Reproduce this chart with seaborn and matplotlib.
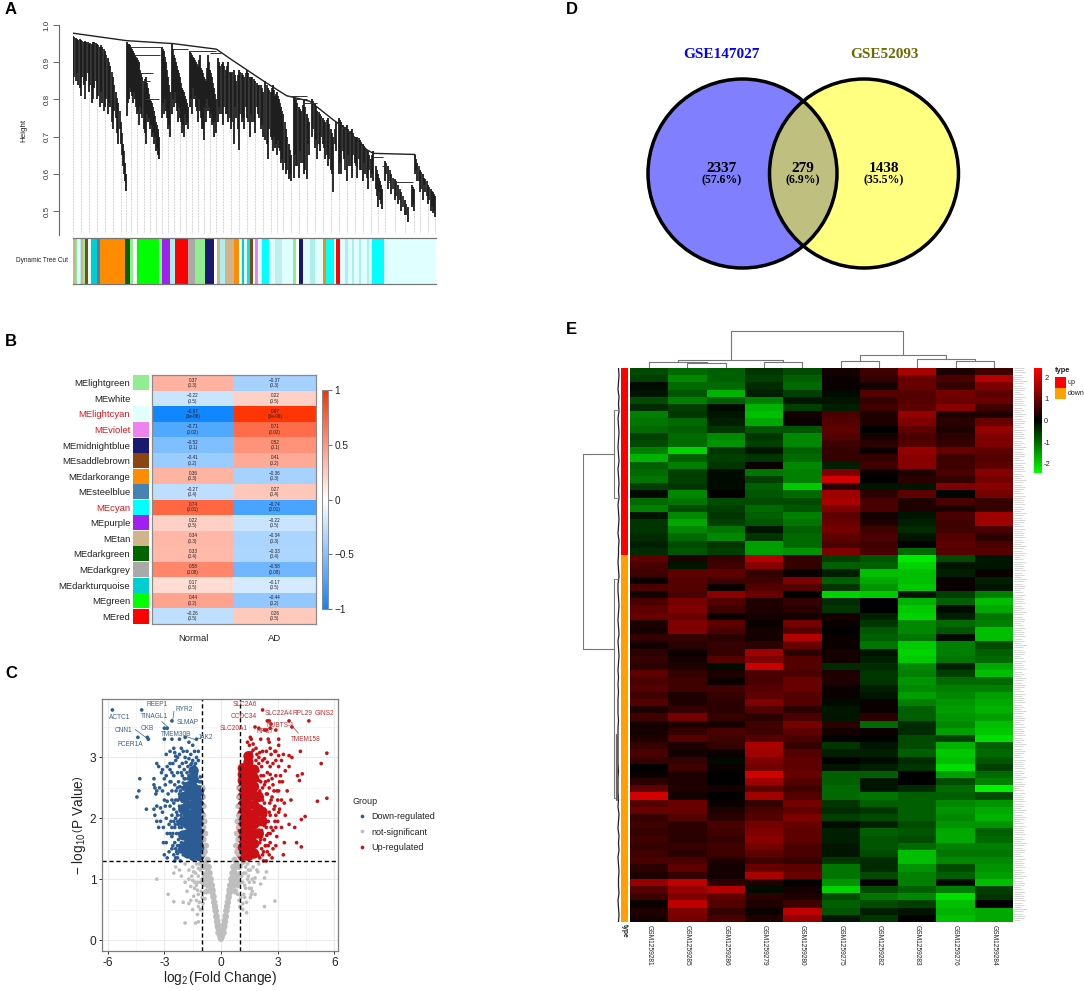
import numpy as np
import pandas as pd
import matplotlib
matplotlib.use("Agg")
import matplotlib.pyplot as plt
from matplotlib.colors import LinearSegmentedColormap
from matplotlib.patches import Circle
import seaborn as sns

# ---------------- panel A data
spike_x = [0,8,16,24,32,40,48,56,64,72,80,88,96,104,112,120,128,136,144,150,155,158,
 162,168,174,180,186,192,198,204,212,218,224,230,236,242,248,254,258,
 268,274,280,286,292, 298,304,310,316,322,328,334,340,346,
 350,356,362,368,374,380,386,392,398,404,410,416,422,428,
 434,442,450,458,466,474,482,490,498,506,514,522,530,538,546,554,562,570,
 576,584,592,600,606,612,618,624,630,638,646,652,
 662,668,676,684,692,700,708, 716,724,732,740,748,756,764,772,780,788,
 796,804,812,820,828,836,844,852,860,868,876,884,892,900,
 908,914,920,926, 934,944,954,964,974,984,994,1004, 1016,1022,
 1026,1032,1040,1048,1056,1064,1072,1080,1086]
spike_top = [.97,.965,.96,.96,.955,.955,.95,.95,.955,.95,.94,.94,.93,.91,.89,.86,.82,.79,.74,.68,.63,.60,
 .955,.95,.94,.93,.92,.91,.90,.87,.85,.86,.83,.80,.79,.77,.74,.72,.70,
 .94,.93,.90,.86,.82, .95,.92,.90,.88,.86,.83,.82,.80,.78,
 .93,.92,.91,.90,.89,.92,.88,.86,.85,.92,.88,.86,.83,.80,
 .91,.89,.90,.88,.90,.87,.88,.85,.88,.87,.86,.88,.86,.86,.85,.84,.84,.82,
 .85,.83,.82,.84,.81,.82,.80,.78,.76,.72,.68,.65,
 .81,.80,.78,.77,.80,.76,.74, .80,.79,.77,.76,.75,.74,.75,.72,.70,.74,
 .75,.74,.72,.73,.71,.72,.70,.70,.69,.68,.67,.66,.64,.66,
 .62,.60,.58,.56, .635,.62,.60,.585,.57,.55,.53,.51, .57,.56,
 .65,.63,.61,.60,.585,.57,.56,.55,.54]
spike_bot = [.84,.85,.84,.81,.84,.85,.82,.79,.83,.80,.78,.79,.78,.76,.78,.72,.75,.68,.68,.62,.58,.555,
 .755,.80,.82,.79,.80,.76,.73,.76,.72,.68,.74,.72,.70,.68,.66,.65,.64,
 .75,.76,.77,.72,.70, .76,.78,.79,.74,.75,.71,.70,.73,.72,
 .78,.76,.80,.78,.74,.77,.72,.69,.74,.77,.75,.73,.70,.71,
 .74,.76,.73,.76,.74,.72,.68,.75,.665,.74,.72,.75,.70,.74,.71,.76,.72,.70,
 .69,.64,.70,.66,.67,.65,.67,.63,.61,.60,.585,.58,
 .59,.62,.59,.63,.60,.585,.65, .70,.67,.64,.66,.68,.64,.62,.61,.55,.66,
 .60,.60,.64,.58,.62,.59,.63,.59,.61,.58,.60,.56,.59,.58,
 .56,.51,.53,.505, .58,.56,.545,.53,.52,.50,.49,.47, .51,.50,
 .60,.58,.55,.53,.55,.52,.50,.495,.485]
fine_spikes = [(4,.968,.86),(12,.962,.87),(20,.962,.83),(28,.958,.86),(36,.957,.80),(44,.953,.87),(52,.952,.84),(60,.953,.80),(68,.952,.85),(76,.945,.81),(84,.945,.82),(92,.935,.77),(100,.92,.80),(108,.90,.79),(116,.875,.74),(124,.84,.77),(132,.805,.71),(140,.77,.72),(147,.71,.65),(152,.66,.60),
 (165,.95,.79),(171,.945,.83),(177,.935,.81),(183,.925,.82),(189,.915,.78),(195,.905,.77),(201,.88,.78),(208,.86,.75),(215,.855,.71),(221,.845,.76),(227,.815,.75),(233,.795,.73),(239,.78,.71),(245,.755,.70),(251,.73,.67),(256,.71,.68),
 (271,.935,.79),(277,.915,.80),(283,.88,.75),(289,.84,.73),
 (301,.935,.80),(307,.91,.82),(313,.89,.77),(319,.87,.78),(325,.845,.74),(331,.825,.73),(337,.81,.76),(343,.79,.74),
 (353,.925,.80),(359,.915,.83),(365,.905,.81),(371,.895,.77),(377,.905,.80),(383,.885,.75),(389,.87,.72),(395,.855,.78),(401,.885,.80),(407,.90,.78),(413,.87,.76),(419,.845,.74),(425,.815,.74),
 (438,.90,.78),(446,.895,.76),(454,.89,.78),(462,.89,.76),(470,.875,.75),(478,.875,.74),(486,.865,.78),(494,.865,.72),(502,.875,.76),(510,.865,.75),(518,.87,.78),(526,.87,.74),(534,.86,.76),(542,.855,.74),(550,.845,.78),(558,.84,.75),(566,.83,.73),
 (580,.84,.68),(588,.825,.72),(596,.83,.69),(603,.825,.70),(609,.815,.68),(615,.81,.69),(621,.79,.66),(627,.77,.64),(634,.74,.63),(642,.70,.61),(649,.665,.60),
 (665,.805,.65),(672,.79,.62),(680,.775,.66),(688,.785,.63),(696,.78,.61),(704,.75,.68),
 (720,.795,.72),(728,.78,.69),(736,.765,.68),(744,.755,.70),(752,.745,.67),(760,.745,.65),(768,.735,.64),(776,.71,.60),(784,.72,.68),
 (800,.745,.63),(808,.73,.66),(816,.725,.61),(824,.72,.65),(832,.715,.62),(840,.71,.65),(848,.70,.62),(856,.695,.64),(864,.685,.61),(872,.675,.63),(880,.665,.59),(888,.65,.61),(896,.65,.60),
 (911,.61,.54),(917,.59,.55),(923,.57,.52),
 (939,.63,.60),(949,.61,.58),(959,.59,.56),(969,.58,.54),(979,.56,.53),(989,.54,.51),(999,.52,.49),(1019,.565,.52),
 (1029,.64,.61),(1036,.62,.58),(1044,.605,.56),(1052,.59,.57),(1060,.58,.54),(1068,.565,.53),(1076,.555,.51),(1083,.545,.50)]
backbone_x = [0,160,300,430,470,570,640,710,780,820,880,900,1025,1025]
backbone_y = [.978,.958,.95,.935,.91,.85,.81,.795,.745,.72,.665,.655,.652,.64]
merge_x0 = [170,182,200,200,215,300,352,372,410,640,660,690,940,900,925]
merge_x1 = [268,262,240,232,258,345,400,430,445,700,700,730,1020,930,945]
merge_y = [.94,.92,.87,.85,.80,.935,.93,.93,.925,.81,.80,.79,.577,.645,.62]
band_segments = [(8,"#D2B48C"),(5,"#90EE90"),(7,"#E0FFFF"),(5,"#AFEEEE"),(6,"#D2B48C"),(6,"#90EE90"),(8,"#8B4513"),(10,"#E0FFFF"),
 (18,"#00CED1"),(10,"#4682B4"),(75,"#FF8C00"),(14,"#006400"),(10,"#90EE90"),(10,"#FFFFFF"),(68,"#00FF00"),(10,"#90EE90"),
 (23,"#A020F0"),(14,"#AFEEEE"),(40,"#FF0000"),(21,"#A9A9A9"),(32,"#90EE90"),(27,"#191970"),(8,"#FFFFFF"),(10,"#D2B48C"),
 (15,"#AFEEEE"),(27,"#D2B48C"),(13,"#FF8C00"),(10,"#E0FFFF"),(6,"#00CED1"),(8,"#E0FFFF"),(11,"#00E5EE"),(8,"#8B4513"),
 (7,"#E0FFFF"),(10,"#EE82EE"),(10,"#E0FFFF"),(22,"#00FFFF"),(18,"#E0FFFF"),(20,"#BFEFEF"),(33,"#E0FFFF"),(9,"#90EE90"),
 (10,"#FFFFFF"),(13,"#191970"),(20,"#E0FFFF"),(15,"#AFEEEE"),(25,"#E0FFFF"),(8,"#FF8C00"),(24,"#00FFFF"),(6,"#E0FFFF"),
 (14,"#FF0000"),(14,"#E0FFFF"),(8,"#AFEEEE"),(12,"#E0FFFF"),(8,"#AFEEEE"),(14,"#E0FFFF"),(8,"#AFEEEE"),(16,"#E0FFFF"),
 (6,"#AFEEEE"),(10,"#E0FFFF"),(35,"#00FFFF"),(158,"#E0FFFF")]

# ---------------- panel B data
modules = ["MElightgreen","MEwhite","MElightcyan","MEviolet","MEmidnightblue","MEsaddlebrown","MEdarkorange","MEsteelblue","MEcyan","MEpurple","MEtan","MEdarkgreen","MEdarkgrey","MEdarkturquoise","MEgreen","MEred"]
module_colors = ["#90EE90","#FFFFFF","#E0FFFF","#EE82EE","#191970","#8B4513","#FF8C00","#4682B4","#00FFFF","#A020F0","#D2B48C","#006400","#A9A9A9","#00CED1","#00FF00","#FF0000"]
highlighted = ["MElightcyan","MEviolet","MEcyan"]
normal_r = [.37,-.22,-.97,-.71,-.52,-.41,.36,-.27,.74,.22,.34,.33,.58,.17,.44,-.26]
ad_r = [-.37,.22,.97,.71,.52,.41,-.36,.27,-.74,-.22,-.34,-.33,-.58,-.17,-.44,.26]
pvals = ["0.3","0.5","3e-06","0.02","0.1","0.2","0.3","0.4","0.01","0.5","0.3","0.4","0.08","0.5","0.2","0.5"]
trait_names = ["Normal","AD"]

# ---------------- panel C data (x, y pairs)
gray_points = [(-3.4,1.0),(-2.5,.63),(-2.0,.62),(-1.9,.28),(-2.8,.75),(-1.35,.28),(-1.2,.3),(-1.5,.5),(-1.6,.65),(-1.8,.8),(-1.4,.95),(-1.25,.42),
 (-2.2,1.15),(-2.4,1.2),(-2.5,1.1),(-2.1,1.05),(-1.9,.95),(-1.7,1.15),(-1.5,1.2),(-1.55,1.05),(-1.35,1.1),(-1.3,.9),(-1.2,.75),(-1.15,.62),
 (-1.45,.72),(-1.1,.5),(-1.05,.8),(-1.9,1.25),(-1.7,1.0),(-1.6,.88),(-1.3,.65),(-1.15,1.25),(-1.2,1.05),(-1.1,.95),(-1.0,.7),(-1.1,1.15),
 (-1.25,.82),(-1.4,.85),(-1.05,1.28),(-.95,.6),(-1.0,.5),(-1.7,.6),(-1.2,.55),(-1.0,1.2),(-.95,1.1),(-1.0,1.0),(-.9,.9),(-.9,.78),(-.85,.68),(-1.2,1.18),(-1.3,1.25),(-1.45,1.12),(-1.5,.98),(-1.25,.95),
 (2.85,.64),(2.3,.55),(2.4,1.12),(1.95,1.12),(1.8,1.02),(2.3,1.02),(2.1,.92),(2.0,1.25),(1.7,1.2),(1.75,.95),(1.55,1.15),(1.5,.85),(1.4,1.25),
 (1.3,1.1),(1.25,.9),(1.2,.75),(1.15,.6),(1.45,1.05),(1.6,.75),(1.9,1.15),(1.65,.8),(1.35,.45),(1.15,.5),(1.1,1.25),(1.05,1.2),(1.25,.7),
 (1.5,.95),(1.6,.85),(1.8,.75),(1.4,1.0),(1.3,.85),(1.1,1.05),(1.05,.7),(1.0,.55),(1.2,1.27),(1.45,1.15),(1.0,.55),(.95,.65),(1.35,.62),(1.55,.7),(1.65,1.0),(1.2,1.1),(1.0,1.22),(.95,1.1),(1.0,.95),(.9,.88),(.88,.75),(1.15,.95),(1.3,1.2)]
gray_arm_points = [(0,.02),(-.04,.05),(.04,.05),(-.08,.1),(.08,.1),(-.12,.17),(.12,.17),(-.16,.25),(.16,.25),(-.2,.32),(.2,.32),(-.14,.12),(.14,.12),
 (-.24,.4),(.24,.4),(-.18,.22),(.18,.22),(-.28,.48),(.28,.48),(-.22,.3),(.22,.3),(-.32,.55),(.32,.55),(-.25,.38),(.25,.38),(-.36,.62),(.36,.62),
 (-.29,.48),(.29,.48),(-.4,.7),(.4,.7),(-.32,.55),(.32,.55),(-.46,.78),(.46,.78),(-.36,.62),(.36,.62),(-.52,.86),(.52,.86),(-.4,.72),(.4,.72),
 (-.58,.95),(.58,.95),(-.44,.82),(.44,.82),(-.64,1.04),(.64,1.04),(-.48,.9),(.48,.9),(-.7,1.12),(.7,1.12),(-.54,1.0),(.54,1.0),(-.76,1.2),(.76,1.2),
 (-.6,1.1),(.6,1.1),(-.82,1.26),(.82,1.26),(-.65,1.2),(.65,1.2),(-.85,1.05),(.85,1.05),(-.95,1.2),(.95,1.2),(-.72,1.32),(.72,1.32),(-.86,1.45),(.86,1.45),
 (-.95,1.4),(.95,1.4),(-.8,1.55),(.8,1.55),(-.92,1.65),(.92,1.65),(-.84,1.75),(.84,1.75),(-.94,1.85),(.94,1.85),(-.88,1.95),(.88,1.95),(-.95,2.05),(.95,2.05),
 (-.92,2.2),(.92,2.2),(-.96,2.35),(.96,2.35),(-.97,2.5),(.97,2.5),(-.7,.9),(.7,.9),(-.8,1.0),(.8,1.0),(-.75,.8),(.75,.8),(-.95,.95),(.95,.95)]
blue_points = [(-5.75,3.78),(-4.2,3.78),(-2.6,3.6),(-2.85,3.48),(-3.0,3.48),(-4.4,3.33),(-3.9,3.33),(-3.85,3.3),(-3.0,3.3),(-2.6,3.3),(-2.2,3.3),(-1.9,3.33),(-1.7,3.25),(-1.5,3.2),(-1.3,3.3),
 (-2.7,3.1),(-2.9,3.05),(-2.5,3.15),(-2.4,3.02),(-2.1,3.15),(-2.0,3.1),(-1.8,3.1),(-1.6,3.05),(-1.4,3.1),(-1.2,3.1),
 (-4.45,2.35),(-4.35,2.45),(-4.3,2.65),(-3.95,2.15),(-3.55,2.65),(-3.55,2.55),(-3.5,2.5),(-3.45,2.4),(-3.4,2.45),(-3.55,2.15),(-3.4,2.2),(-3.2,2.17),(-3.5,2.05),(-3.4,1.95),(-3.1,2.1),(-3.3,1.85),(-3.05,1.85),
 (-3.0,2.3),(-2.85,2.28),(-2.7,2.2),(-2.9,2.0),(-2.6,2.05),(-2.75,1.9),(-2.6,1.85),(-2.5,1.95),(-3.05,1.6),(-2.9,1.6),(-2.85,1.35),(-2.75,1.45),(-3.0,1.4),(-2.6,1.5),(-2.6,1.7),
 (-3.4,2.9),(-3.3,2.85),(-3.15,2.75),(-3.1,2.8),(-3.0,2.65),(-2.9,2.7),(-2.85,2.85),(-2.7,2.8),(-2.6,2.75),(-2.95,2.55),(-2.7,2.6),(-2.55,2.9),(-2.4,2.95),(-2.3,3.0),(-2.2,2.85),(-2.05,2.9),(-1.9,3.0),(-1.7,2.98),(-1.5,2.95),(-1.3,3.0),
 (-2.5,2.7),(-2.3,2.75),(-2.1,2.75),(-1.95,2.8),(-1.75,2.85),(-1.55,2.9),(-1.35,2.9),(-2.6,2.45),(-2.45,2.55),(-2.25,2.6),(-2.15,2.45),(-2.4,2.3),(-2.2,2.4),(-2.05,2.5),(-1.85,2.55),(-2.5,2.15),(-2.35,2.1),(-2.2,2.2),
 (-2.7,1.75),(-2.55,1.75),(-2.45,1.85),(-2.3,1.95),(-2.45,1.6),(-2.25,1.65),(-2.35,1.75),(-2.5,1.4),(-2.4,1.5),(-2.3,1.35),(-2.2,1.55),(-2.45,1.3),(-2.3,1.42),(-2.15,1.3),(-2.6,2.3),(-2.4,2.0),(-2.25,1.9),(-2.35,1.45),(-2.2,1.85),(-2.1,1.6),(-2.5,2.25),(-2.3,2.05),(-2.15,2.15),(-2.4,1.35),(-2.1,1.7),(-2.3,1.55),(-2.0,1.4),(-1.95,2.65),
 (-1.2,2.95),(-1.4,2.85),(-1.6,2.8),(-1.8,2.75),(-1.1,2.68),(-1.3,2.72),(-1.5,2.78),(-1.7,2.7),(-1.9,2.65),(-2.05,2.7),(-1.15,2.6),(-1.35,2.62),(-1.55,2.6),(-1.75,2.65),(-1.05,2.6),(-1.25,2.62),
 (-2.15,1.45),(-2.2,1.75),(-2.08,1.85),(-2.12,2.05),(-2.28,2.3),(-2.05,2.28),(-2.38,2.45),(-2.18,2.52),(-1.98,2.48),(-1.88,2.42),(-2.0,2.58),(-1.7,2.58),(-1.65,2.45),(-2.42,1.9),(-2.22,1.48),(-2.55,1.55),(-2.65,1.95),(-2.8,2.4),(-2.65,2.6),(-2.3,2.5),(-2.7,2.9),(-2.45,3.08),(-2.2,3.05),(-1.85,2.92),(-1.6,2.88),(-3.25,2.5),(-3.1,2.45),(-2.95,2.2),(-3.2,1.95),(-2.85,1.75)]
blue_core_points = [(-1.15,1.38),(-1.15,1.52),(-1.15,1.66),(-1.15,1.8),(-1.15,1.94),(-1.15,2.08),(-1.15,2.22),(-1.15,2.36),(-1.15,2.46),
 (-1.45,1.38),(-1.45,1.52),(-1.45,1.66),(-1.45,1.8),(-1.45,1.94),(-1.45,2.08),(-1.45,2.22),(-1.45,2.36),(-1.45,2.5),(-1.45,2.64),(-1.45,2.78),
 (-1.75,1.42),(-1.75,1.58),(-1.75,1.74),(-1.75,1.9),(-1.75,2.06),(-1.75,2.22),(-1.75,2.38),(-1.75,2.52),(-2.0,1.5),(-2.0,1.72),(-2.0,1.95),(-2.0,2.15),(-2.0,2.35)]
red_points = [(2.2,3.78),(2.45,3.6),(2.65,3.55),(2.55,3.6),(3.6,3.6),(4.65,3.6),(3.75,3.5),(2.4,3.45),(1.8,3.5),(2.0,3.48),(2.3,3.45),(2.6,3.48),(2.9,3.45),(1.55,3.33),(1.6,3.3),(1.4,3.25),(1.5,3.2),(1.7,3.22),(2.1,3.3),(2.5,3.3),(2.55,3.25),(3.05,3.3),(3.05,3.2),
 (2.9,3.1),(2.6,3.15),(2.4,3.1),(2.2,3.1),(2.05,3.08),(1.9,3.05),(2.65,3.05),(2.85,3.1),(3.05,3.03),(3.3,3.05),(3.6,3.03),(3.75,3.0),(4.2,3.1),(5.6,3.07),(5.3,2.9),
 (1.85,2.95),(2.0,2.9),(2.15,2.85),(2.3,2.98),(2.45,2.92),(2.6,2.85),(2.75,2.9),(2.9,2.95),(3.05,2.85),(3.2,2.95),(3.4,2.78),(3.6,2.85),(4.05,2.7),(4.3,2.73),(4.15,2.62),(2.25,2.7),(2.45,2.75),(2.7,2.65),(2.9,2.7),(3.1,2.6),(3.25,2.6),(2.1,2.6),(2.3,2.55),(2.55,2.5),(2.75,2.55),(2.95,2.45),
 (5.1,2.28),(5.6,2.33),(3.5,2.45),(3.7,2.3),(4.25,1.98),(4.45,2.03),(3.9,1.85),(3.6,1.9),(3.0,1.95),(2.9,1.85),(2.75,1.8),(2.95,1.7),(3.2,1.85),(3.35,1.6),(3.05,2.1),(2.8,2.15),(4.0,1.6),(4.25,1.53),(3.3,1.4),
 (2.2,1.98),(2.3,1.88),(2.5,1.75),(2.1,1.65),(2.35,1.55),(2.6,1.6),(2.45,1.45),(2.2,1.4),(2.0,1.38),(2.7,1.35),(2.4,1.3),(2.15,1.7),(1.95,1.75),(2.05,1.6),(2.25,1.45),(2.5,1.55),
 (2.45,2.4),(2.65,2.3),(2.85,2.2),(2.3,2.15),(2.1,2.4),(1.95,2.35),(1.8,2.8),(2.3,2.25),(2.55,2.1),(3.05,2.45),(3.35,2.25),(2.7,2.35),(3.1,2.15),(3.4,2.05),(2.6,2.05),(2.85,1.95),(2.4,1.85),(2.25,1.9),(2.15,1.8),(1.9,1.7),(2.05,1.75),(2.35,1.55),(2.15,1.5),(2.05,1.35),(2.2,2.1),(1.95,2.15),(1.85,2.2),(1.75,2.3),(2.4,2.4),
 (2.2,2.5),(2.05,2.45),(2.0,2.62),(1.95,2.78),(2.12,2.7),(2.2,2.3),(2.35,2.05),(2.5,1.95),(2.65,1.85),(2.75,1.5),(2.55,1.4),(2.3,1.65),(2.42,1.72),(2.58,2.25),(2.8,2.45),(2.35,2.6),(2.5,2.62),(2.2,2.95),(2.0,3.0),(1.7,3.12),(1.6,3.08),(1.85,3.15),(3.2,2.3),(3.0,2.3),(2.9,2.05),(3.15,2.7),(2.6,2.72),(2.9,1.55),(2.6,1.75),(2.25,1.3)]
red_core_points = [(1.15,1.38),(1.15,1.52),(1.15,1.66),(1.15,1.8),(1.15,1.94),(1.15,2.08),(1.15,2.22),(1.15,2.36),(1.15,2.5),(1.15,2.62),(1.15,2.72),(1.15,2.82),
 (1.45,1.38),(1.45,1.52),(1.45,1.66),(1.45,1.8),(1.45,1.94),(1.45,2.08),(1.45,2.22),(1.45,2.36),(1.45,2.5),(1.45,2.64),(1.45,2.78),(1.45,2.92),(1.45,3.02),
 (1.75,1.42),(1.75,1.58),(1.75,1.74),(1.75,1.9),(1.75,2.06),(1.75,2.22),(1.75,2.38),(1.75,2.52),(1.75,2.66),(1.75,2.8),(2.0,1.75),(2.0,1.95),(2.0,2.15),(2.0,2.35),(2.2,1.95),(2.2,2.1)]
gene_down = ["REEP1","RYR2","ACTC1","TINAGL1","SLMAP","CKB","CNN1","TMEM30B","JAK2","FCER1A"]
gene_down_x = [-3.37,-1.96,-5.38,-3.54,-1.75,-3.92,-5.15,-2.4,-.83,-4.81]
gene_down_y = [3.87,3.79,3.66,3.67,3.58,3.48,3.44,3.38,3.32,3.21]
gene_up = ["SLC2A6","CCDC34","SLC22A4","RPL29","GINS2","SLC20A1","NUBTS-1","RPS7","TMEM158"]
gene_up_x = [1.27,1.22,3.05,4.29,5.49,.69,3.12,2.31,4.48]
gene_up_y = [3.87,3.68,3.72,3.72,3.72,3.48,3.52,3.42,3.3]
conn_x0 = [-4.55,-2.49,-3.14,-1.34,4.09]
conn_y0 = [3.46,3.76,3.59,3.29,3.4]
conn_x1 = [-3.94,-2.57,-2.79,-1.9,3.69]
conn_y1 = [3.32,3.59,3.49,3.35,3.54]
group_names = ["not-significant","Down-regulated","Up-regulated"]
legend_order = ["Down-regulated","not-significant","Up-regulated"]
group_colors = {"Down-regulated":"#2B5C94","not-significant":"#BEBEBE","Up-regulated":"#CC0F14"}

# ---------------- panel D data
set_names = ["GSE147027","GSE52093"]
venn_counts = ["2337","279","1438"]
venn_pct = ["(57.6%)","(6.9%)","(35.5%)"]

# ---------------- panel E data
samples = ["GSM1259281","GSM1259285","GSM1259286","GSM1259279","GSM1259280","GSM1259275","GSM1259282","GSM1259283","GSM1259276","GSM1259284"]
up_rows = [
[-.7,-1.0,-.9,-.5,-.7,.2,.6,1.6,.3,.6],[-.6,-1.3,-.9,-.6,-.9,.1,.5,1.0,.7,1.7],[-.1,-1.0,-1.0,-.4,-1.0,.1,.2,1.0,.5,1.2],
[-.2,-.8,-1.7,-.3,-.6,-.1,.8,.8,1.1,.9],[-.7,-1.2,-.9,-1.2,-.2,-.2,.5,.8,1.0,1.0],[-.4,-.6,-.1,-1.7,-.6,-.3,.6,.9,1.3,.6],
[-1.2,-.5,-.2,-1.8,.2,.7,.3,1.4,.3,.3],[-1.1,-1.0,-.3,-1.6,.1,.8,.3,1.2,.4,1.0],[-1.0,-.9,-.5,-.8,-.8,.9,0,.9,.3,1.4],
[-.6,-1.0,-1.3,-.5,-1.3,.8,.2,.7,.4,1.2],[-.7,-1.0,-1.4,-.6,-1.3,.6,.4,.8,.5,1.2],[-1.2,-2.0,-.5,-.2,-.9,.5,.1,1.4,1.0,.9],
[-1.7,-.9,-.6,-.5,-1.0,.5,.5,1.3,.6,.8],[-.9,-1.2,-.5,.1,-1.3,-.3,.6,1.3,.6,.9],[-1.0,-.6,-.1,-1.1,-1.2,1.2,.1,.3,.7,1.3],
[-1.1,-.6,-.1,-.6,-1.2,2.0,0,.4,.5,1.1],[-.6,-.5,-.1,-.9,-1.9,.4,-.2,-.2,1.2,1.3],[-.1,-1.3,0,-.8,-1.0,1.5,.4,.9,-.05,1.1],
[-1.0,-1.1,-.7,-.7,-.7,1.6,.7,.3,.7,.5],[-1.2,-.7,-.6,-1.0,-.8,1.2,.7,.3,.3,.5],[-.2,-1.3,-.5,-.9,-1.2,.9,.2,-.2,.7,1.5],
[-.5,-1.6,-.6,-.8,-1.1,1.0,.3,-.3,.6,1.5],[-.5,-1.3,-1.1,-.2,-.9,1.1,.6,-.4,.6,.7],[-.4,-1.0,-1.3,-.5,-1.0,.9,.7,-.2,.8,.4],
[-.3,-.7,-.5,-1.5,-1.0,.7,.6,0,.9,.7],[-.4,-.8,-.6,-1.5,-1.4,1.2,.7,-1.0,.8,.8]]
down_rows = [
[.9,.3,.5,1.7,.5,-.6,-.8,-2.2,-.7,-.2],[.7,-.2,.6,1.3,.5,-.9,-.9,-2.0,-.2,-.2],[.6,.9,.9,.5,.1,-.3,-1.8,-1.8,-.3,.1],
[.1,.8,.6,.6,1.2,-.9,-1.6,-1.8,.1,-.3],[.7,.8,.1,.8,.8,-.5,-1.4,-1.9,.1,-.2],[.2,.7,1.3,1.0,0,-2.0,-1.9,-.2,-.6,-1.2],
[.7,1.1,.8,.3,.5,-.4,0,-1.7,-.9,-1.8],[.9,1.2,.6,.3,.4,-.5,0,-1.9,-.1,-1.6],[1.0,1.0,.1,.2,.2,.2,-.3,-2.0,-.3,-1.1],
[.3,1.2,.9,.1,1.1,.1,-.5,-1.3,-1.0,-1.2],[.2,1.2,.7,.2,.8,0,-.8,-1.3,-.8,-1.8],[.5,.5,.4,.2,1.7,.1,-.9,-1.1,-.1,-1.8],
[.2,.4,.5,.4,1.0,.1,-1.1,-1.9,-1.2,-.7],[.4,.1,.5,1.5,.4,.2,-.2,-2.0,-1.2,-.9],[.5,.2,.8,1.2,.8,.2,-.3,-1.9,-1.1,-1.0],
[.4,.3,-.1,1.9,.8,-.4,-.4,-1.3,-.3,-1.6],[.9,.5,.3,.7,.7,.3,-.5,-1.2,-.6,-1.8],[.7,.6,.1,.7,1.0,.3,-.5,-1.4,-1.0,-1.0],
[.8,.6,.6,.8,1.0,.1,-.3,-1.3,-1.2,-1.2],[.6,.3,.5,.9,.8,.1,-.2,-1.5,-1.3,-1.5],[.8,.3,.4,1.2,.8,-.1,.1,-1.2,-1.4,-1.6],
[.3,.5,.4,.8,.4,-.2,.1,-.9,-1.5,-1.7],[.6,1.1,.5,.4,.7,-.2,.4,-.9,-1.4,-1.5],[.2,.3,.2,.6,1.1,.4,-1.0,-.4,-1.3,-1.8],
[.2,.5,.7,.6,.9,.2,.1,-.4,-1.5,-1.9],[.3,.8,.6,.8,.7,0,0,-.7,-.6,-2.1],[.5,.3,.5,1.6,.5,-.5,-.2,-.7,-1.7,-.9],
[.7,.2,.1,1.5,.8,-.3,-.3,-.9,-1.9,-1.0],[.5,.5,-.1,1.2,.9,0,-.1,-.4,-1.8,-.8],[0,.6,.1,1.1,.9,-.2,-.3,-.5,-2.1,-.6],
[.1,.3,0,2.0,1.0,-.9,-.9,0,-1.5,-1.0],[.4,.3,0,1.5,.8,-.9,-.2,0,-.7,-1.2],[.9,.3,.2,.9,.6,-1.0,-.2,-.4,-1.0,-2.3],
[2.0,.2,0,1.5,.8,-1.0,-1.1,-.9,-.9,-.7],[.8,1.0,.1,.5,1.1,-.5,-.9,-.9,-1.3,-1.4],[1.0,1.0,.3,.7,.9,-.4,-.5,-.9,-1.4,-1.6],
[.5,.8,.4,.8,1.2,-.6,-.7,-.9,-1.3,-1.7],[.6,.4,.7,1.1,1.0,-.1,-.3,-.7,-1.4,-1.4],[.5,.4,.6,1.2,.9,-.3,-.9,-.8,-1.6,-.9],
[.6,.4,.5,1.3,.9,-.3,-.8,-.7,-1.6,-1.0],[.5,.5,.6,1.1,.7,-.2,-.8,-1.0,-1.2,-1.2],[.6,.4,.6,.9,.7,-.2,-.7,-1.8,-1.1,-1.1],
[.7,.7,.3,.6,.5,-.5,-.4,-1.8,-1.3,-1.3],[.4,.9,.2,1.0,.9,-1.1,-.4,-1.4,-.7,-1.4],[.3,.5,.2,1.6,1.0,-1.1,-.7,-1.2,-.9,-1.5],
[1.4,1.8,.4,.3,0,-1.4,.1,-1.2,-.1,-1.8],[.8,1.4,1.7,-.1,.2,-2.0,-.7,-.9,-1.2,-.6],[.6,1.2,.9,.4,.3,-.7,-1.1,-1.3,-2.1,-.5],
[.1,1.8,.8,.3,.6,-.9,-.7,-.6,-1.8,0],[.3,1.2,.5,.1,1.8,-.8,-.3,-.2,-1.7,-1.6],[.2,1.1,.7,.3,1.4,-.2,-.5,0,-1.8,-1.6]]
leaf_wiggle = [1.5,1,1.5,2,1,1.5,1,2,1.5,1,1.5,2,1.5,1,2,1.5,1,1.5,1,2,1.5,1,1.5,2,1,1.5,1.5,2,1.5,1,2,2,1.5,1,1.5,2,1.5,1,2,1.5,1,1.5,2,1.5,2,1.5,2,2,2,1.5,2,2,2,2,2,2,1.5,2,2,2,1.5,2,1,1.5,2,1,1.5,1,2,1.5,1,1.5,1.5,1,2,1.5,1,1.5]
label_len = [10,9,11,8,10,7,12,9,8,11,10,6,9,11,8]

# ---------------- layout helpers
W, H = 1084, 991
sns.set_style("white")
plt.rcParams["font.family"] = ["Liberation Sans", "DejaVu Sans"]
plt.rcParams["mathtext.fontset"] = "custom"
plt.rcParams["mathtext.rm"] = "Liberation Sans"
plt.rcParams["mathtext.it"] = "Liberation Sans"
plt.rcParams["mathtext.default"] = "rm"
fig = plt.figure(figsize=(W/100, H/100), dpi=100, facecolor="white")

def rect(x0, y0, x1, y1, **kw):
    return fig.add_axes([x0/W, 1-y1/H, (x1-x0)/W, (y1-y0)/H], **kw)

def ftext(x, y, s, **kw):
    fig.text(x/W, 1-y/H, s, **kw)

def frame(points, group):
    xs, ys = zip(*points)
    return pd.DataFrame({"x": xs, "y": ys, "Group": group})

for letter, lx, ly in [("A",5,10),("B",5,342),("C",5,674),("D",566,10),("E",566,330)]:
    ftext(lx, ly, letter, fontsize=12, fontweight="bold", va="center", ha="left", color="black")

# ---------------- A
ax = rect(73, 25, 436, 235)
ax.set_xlim(0, 1088); ax.set_ylim(.4355, 1.0)
ax.vlines(spike_x[::3], .44, spike_bot[::3], colors="#a8a8a8", linewidth=.5, linestyles=(0,(1,1.2)))
ax.vlines(spike_x, spike_bot, spike_top, colors="#111111", linewidth=1.25)
fx, ft, fb = zip(*fine_spikes)
ax.vlines(fx, fb, ft, colors="#1c1c1c", linewidth=1.25)
ax.plot(backbone_x, backbone_y, color="#222222", lw=1.0)
ax.hlines(merge_y, merge_x0, merge_x1, colors="#333333", lw=.7)
for s in ["top","right","bottom"]:
    ax.spines[s].set_visible(False)
ax.spines["left"].set_position(("outward", 10))
ax.spines["left"].set_color("#666666")
ax.spines["left"].set_linewidth(.8)
ax.set_xticks([])
ax.set_yticks([.5,.6,.7,.8,.9,1.0])
ax.set_yticklabels(["0.5","0.6","0.7","0.8","0.9","1.0"], rotation=90, va="center", fontsize=5.8, color="#333333")
ax.tick_params(axis="y", length=4, width=.7, color="#666666", pad=2, left=True)
ftext(24, 130, "Height", rotation=90, fontsize=5.8, va="center", ha="center", color="#222222")
ax = rect(73, 238, 436, 284)
band_w, band_c = zip(*band_segments)
ax.set_xlim(0, sum(band_w)); ax.set_ylim(0, 1)
ax.barh(0.5, band_w, left=np.cumsum((0,)+band_w[:-1]), height=1, color=band_c, linewidth=0)
ax.set_xticks([]); ax.set_yticks([])
for s in ["left","right"]:
    ax.spines[s].set_visible(False)
for s in ["top","bottom"]:
    ax.spines[s].set_color("#777777"); ax.spines[s].set_linewidth(.9)
ftext(42, 261, "Dynamic Tree Cut", fontsize=4.7, va="center", ha="center", color="#222222")

# ---------------- B
ax = rect(133, 375, 149, 624)
ax.set_xlim(0, 1); ax.set_ylim(len(modules), 0)
ax.barh(np.arange(len(modules))+.5, [1]*len(modules), height=.96, color=module_colors, linewidth=0)
ax.set_xticks([])
ax.set_yticks(np.arange(len(modules))+.5)
ax.set_yticklabels(modules, fontsize=6.8)
ax.tick_params(axis="y", length=0, pad=2)
for t in ax.get_yticklabels():
    t.set_color("#E2141A" if t.get_text() in highlighted else "#222222")
for s in ax.spines.values():
    s.set_visible(False)
rb_cmap = LinearSegmentedColormap.from_list("rb", ["#0A84FF","#FFFFFF","#FF3000"])
rb_df = pd.DataFrame({trait_names[0]: normal_r, trait_names[1]: ad_r}, index=modules)
rb_annot = np.array([[f"{v:.2f}".replace("-","\u2212") + f"\n({p})" for v in row] for row, p in zip(rb_df.values, pvals)])
ax = rect(152, 375, 316, 624)
cax = rect(322, 390, 328, 609)
sns.heatmap(rb_df, ax=ax, cbar_ax=cax, cmap=rb_cmap, vmin=-1, vmax=1, annot=rb_annot, fmt="",
            annot_kws={"fontsize":3.3, "color":"#222222", "linespacing":1.1}, yticklabels=False, linewidths=0)
ax.tick_params(axis="x", length=0, pad=7, labelsize=6.8, labelcolor="#222222")
ax.tick_params(axis="y", length=0)
ax.set_ylabel(""); ax.set_xlabel("")
for s in ax.spines.values():
    s.set_visible(True); s.set_color("#8a8a8a"); s.set_linewidth(.9)
cax.set_yticks([-1,-.5,0,.5,1])
cax.set_yticklabels(["\u22121","\u22120.5","0","0.5","1"], fontsize=7.2, color="#222222")
cax.tick_params(axis="y", length=3, width=.6, color="#555555", pad=1.5, right=True)
for s in cax.spines.values():
    s.set_visible(True); s.set_color("#8a8a8a"); s.set_linewidth(.6)

# ---------------- C
ax = rect(102, 699, 338, 951)
df = pd.concat([frame(gray_points + gray_arm_points, group_names[0]),
                frame(blue_points, group_names[1]),
                frame(red_points, group_names[2])], ignore_index=True)
arm = frame(gray_arm_points, group_names[0])
bcore = frame(blue_core_points, group_names[1])
rcore = frame(red_core_points, group_names[2])
ax.set_axisbelow(True)
ax.set_xticks([-4.5,-1.5,1.5,4.5], minor=True)
ax.set_yticks([.5,1.5,2.5,3.5], minor=True)
ax.grid(True, which="major", color="#EBEBEB", lw=.8)
ax.grid(True, which="minor", color="#F2F2F2", lw=.5)
sns.scatterplot(data=arm, x="x", y="y", color=group_colors["not-significant"], s=20, edgecolor="none", ax=ax, legend=False)
sns.scatterplot(data=bcore, x="x", y="y", color=group_colors["Down-regulated"], s=55, edgecolor="none", ax=ax, legend=False)
sns.scatterplot(data=rcore, x="x", y="y", color=group_colors["Up-regulated"], s=55, edgecolor="none", ax=ax, legend=False)
sns.scatterplot(data=df, x="x", y="y", hue="Group", hue_order=legend_order, palette=group_colors, s=7, edgecolor="none", ax=ax)
ax.axvline(-1, color="black", lw=1, ls=(0,(3,2)))
ax.axvline(1, color="black", lw=1, ls=(0,(3,2)))
ax.axhline(1.3, color="black", lw=1, ls=(0,(3,2)))
for n, x, y in zip(gene_down, gene_down_x, gene_down_y):
    ax.text(x, y, n, fontsize=4.7, color="#3A5F8E", ha="center", va="center")
for n, x, y in zip(gene_up, gene_up_x, gene_up_y):
    ax.text(x, y, n, fontsize=4.7, color="#BE2F32", ha="center", va="center")
for i in range(4):
    ax.plot([conn_x0[i], conn_x1[i]], [conn_y0[i], conn_y1[i]], color="#3A5F8E", lw=.5)
ax.plot([conn_x0[4], conn_x1[4]], [conn_y0[4], conn_y1[4]], color="#BE2F32", lw=.5)
ax.set_xlim(-6.3, 6.19); ax.set_ylim(-.18, 3.96)
ax.set_xticks([-6,-3,0,3,6]); ax.set_xticklabels(["-6","-3","0","3","6"])
ax.set_yticks([0,1,2,3])
ax.tick_params(axis="both", which="major", labelsize=8.6, length=2.5, width=.7, color="#333333", labelcolor="#222222", pad=1.5, bottom=True, left=True)
ax.tick_params(axis="both", which="minor", length=0)
ax.set_xlabel(r"$\log_2\left(\mathrm{Fold\ Change}\right)$", fontsize=9.8, labelpad=0, color="#222222")
ax.set_ylabel(r"$-\ \log_{10}\left(\mathrm{P\ Value}\right)$", fontsize=9.8, labelpad=1, color="#222222")
for s in ax.spines.values():
    s.set_color("#7F7F7F"); s.set_linewidth(.9); s.set_visible(True)
lg = ax.legend(loc="upper left", bbox_to_anchor=(348/W, 1-792/H), bbox_transform=fig.transFigure, frameon=False,
               title="Group", fontsize=6.5, title_fontsize=6.5, labelspacing=.72, handletextpad=.1, borderpad=0)
lg._legend_box.align = "left"
for t in lg.get_texts():
    t.set_color("#222222")

# ---------------- D
ax = rect(620, 50, 990, 290)
ax.set_xlim(620, 990); ax.set_ylim(290, 50); ax.axis("off")
ax.add_patch(Circle((742.5, 173.5), 94.5, fc="#8080FF", ec="none"))
ax.add_patch(Circle((864, 173.5), 94.5, fc="#FFFF80", ec="none"))
lens = Circle((864, 173.5), 94.5, fc="#BFBF80", ec="none"); ax.add_patch(lens)
lens.set_clip_path(Circle((742.5, 173.5), 94.5, transform=ax.transData))
ax.add_patch(Circle((742.5, 173.5), 94.5, fc="none", ec="black", lw=2.5))
ax.add_patch(Circle((864, 173.5), 94.5, fc="none", ec="black", lw=2.5))
serif = dict(family="Liberation Serif", fontweight="bold", ha="center", va="center")
ftext(721.7, 54, set_names[0], fontsize=11, color="#0000FF", **serif)
ftext(884, 54, set_names[1], fontsize=11, color="#6B6B00", **serif)
for xx, c, p in zip([721.7, 803, 884], venn_counts, venn_pct):
    ftext(xx, 168, c, fontsize=11, color="black", **serif)
    ftext(xx, 180.5, p, fontsize=8.5, color="black", **serif)

# ---------------- E
exp = np.array(up_rows + down_rows)
green_black_red = LinearSegmentedColormap.from_list("gbr", ["#00FF00","#000000","#FF0000"])
ax = rect(630, 368, 1013, 922)
cax = rect(1034, 368, 1042, 473)
sns.heatmap(exp, ax=ax, cbar_ax=cax, cmap=green_black_red, vmin=-2.42, vmax=2.42, xticklabels=samples, yticklabels=False)
ax.tick_params(axis="x", length=0, pad=2, labelsize=4.8, labelcolor="#222222")
plt.setp(ax.get_xticklabels(), rotation=270, ha="center", va="top")
cax.set_yticks([-2,-1,0,1,2])
cax.set_yticklabels(["-2","-1","0","1","2"], fontsize=5.5, color="#222222")
cax.tick_params(axis="y", length=0, pad=1.5)
for s in cax.spines.values():
    s.set_visible(False)

# annotation bar
ax = rect(621, 368, 628, 922)
nup, ndown = len(up_rows), len(down_rows)
ax.set_xlim(0, 1); ax.set_ylim(nup+ndown, 0)
ax.barh(nup/2, 1, height=nup, color="#FF0000", linewidth=0)
ax.barh(nup+ndown/2, 1, height=ndown, color="#FFA000", linewidth=0)
ax.axis("off")
ftext(624.5, 931, "type", rotation=270, fontsize=4.8, fontweight="bold", ha="center", va="center", color="#222222")

# row dendrogram
ax = rect(583, 368, 620, 922)
ax.set_xlim(37, 0); ax.set_ylim(nup+ndown, 0)
ax.plot(leaf_wiggle, np.arange(len(leaf_wiggle)), color="#222222", lw=.9)
dc = "#777777"
ax.plot([6,37,37,6], [12,12,39,39], color=dc, lw=.8)
ax.plot([6,6],[5.8,18.1], color=dc, lw=.8)
ax.plot([6,6],[29.3,59.7], color=dc, lw=.8)
ax.plot([6,2],[5.8,5.8], color=dc, lw=.6); ax.plot([6,2],[18.1,18.1], color=dc, lw=.6)
ax.plot([6,2],[29.3,29.3], color=dc, lw=.6); ax.plot([6,2],[59.7,59.7], color=dc, lw=.6)
ax.plot([3,3],[51,60], color="#666666", lw=1.6)
ax.axis("off")

# column dendrogram
ax = rect(630, 330, 1013, 368)
ax.set_xlim(0, 10); ax.set_ylim(0, 114)
merges = [(1.5,2.5,0,0,15),(.5,2,0,15,18),(3.5,4.5,0,0,18),(1.25,4,18,18,23),(5.5,6.5,0,0,21),(8.5,9.5,0,0,20),(7.5,9,0,20,28),(6,8.25,21,28,40),(2.625,7.125,23,40,110)]
for xa, xb, ya, yb, top in merges:
    ax.plot([xa,xa,xb,xb],[ya,top,top,yb], color=dc, lw=.8)
ax.axis("off")

# row label marks
ax = rect(1014, 368, 1027, 922)
ax.set_xlim(0, 13); ax.set_ylim(554, 0)
ypos = np.arange(0, 554, 2.2)
ax.hlines(ypos, 0, [label_len[i % len(label_len)] for i in range(len(ypos))], colors="#D0D0D0", lw=.6)
ax.axis("off")

# type legend
ax = rect(1055, 377, 1066, 399)
ax.set_xlim(0,1); ax.set_ylim(2,0)
ax.barh(.5, 1, height=1, color="#FF0000", linewidth=0)
ax.barh(1.5, 1, height=1, color="#FFA000", linewidth=0)
ax.axis("off")
ftext(1055, 371, "type", fontsize=5.4, fontweight="bold", va="center", ha="left", color="#222222")
ftext(1067.5, 382.5, "up", fontsize=5.1, va="center", ha="left", color="#222222")
ftext(1067.5, 393.5, "down", fontsize=5.1, va="center", ha="left", color="#222222")

fig.savefig("out.png", dpi=100, facecolor="white")
